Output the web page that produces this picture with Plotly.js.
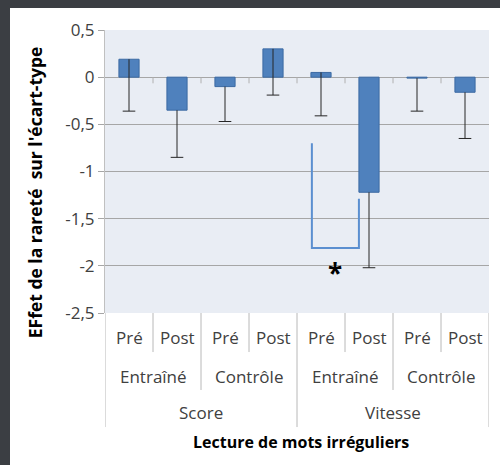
<!DOCTYPE html>
<html><head><meta charset="utf-8">
<script src="https://cdn.plot.ly/plotly-3.0.1.min.js"></script>
<style>
html,body{margin:0;padding:0;background:#3b3e43;width:500px;height:465px;overflow:hidden}
#wrap{position:absolute;left:10px;top:8px;width:490px;height:457px;background:#fff}
#chart{width:490px;height:457px}
</style></head><body>
<div id="wrap"><div id="chart"></div></div>
<script>
// Data
var phases = ['Pré','Post','Pré','Post','Pré','Post','Pré','Post'];
var groups = ['Entraîné','Contrôle','Entraîné','Contrôle'];
var measures = ['Score','Vitesse'];
var effects = [0.19, -0.35, -0.10, 0.30, 0.05, -1.22, -0.01, -0.16];
var errMinus = [0.55, 0.50, 0.37, 0.49, 0.46, 0.80, 0.35, 0.49];
var yTickVals = [0.5, 0, -0.5, -1, -1.5, -2, -2.5];
var yTickText = ['0,5', '0', '-0,5', '-1', '-1,5', '-2', '-2,5'];
// significance bracket (x in category units, y in effect units)
var bracketX = [3.81, 3.81, 4.79, 4.79];
var bracketY = [-0.70, -1.81, -1.81, -1.29];
var starPos = [4.29, -2.08];

var xs = effects.map(function(_, i){ return i; });
var lows = effects.map(function(v, i){ return v - errMinus[i]; });
var font = "'Open Sans', 'Liberation Sans', sans-serif";

var traces = [{
  type: 'bar', x: xs, y: effects, width: 0.42,
  marker: {color: '#4f81bd', line: {color: '#3c6aa3', width: 1}},
  error_y: {type: 'data', symmetric: false, array: effects.map(function(){return 0;}),
            arrayminus: errMinus, color: '#262626', thickness: 1, width: 0},
  hoverinfo: 'skip'
}, {
  type: 'scatter', mode: 'markers', x: xs, y: lows,
  marker: {symbol: 'line-ew', size: 9, line: {color: '#262626', width: 1}}, hoverinfo: 'skip'
}, {
  type: 'scatter', mode: 'lines', x: bracketX, y: bracketY,
  line: {color: '#5b8fd0', width: 2}, hoverinfo: 'skip'
}];

var shapes = [];
var annotations = [];
for (var k = 0; k <= phases.length; k++) {
  var y1 = (k % 4 === 0) ? -0.403 : (k % 2 === 0 ? -0.272 : -0.138);
  shapes.push({type: 'line', xref: 'x', yref: 'paper', x0: k - 0.5, x1: k - 0.5, y0: 0, y1: y1,
               line: {color: '#b8b8b8', width: 1}});
  if (k > 0 && k < phases.length) {
    shapes.push({type: 'line', xref: 'x', yref: 'y', x0: k - 0.5, x1: k - 0.5, y0: 0, y1: -0.065,
                 line: {color: '#b0b0b0', width: 1}});
  }
}
var lab = {family: font, size: 17, color: '#404040'};
phases.forEach(function(t, i){
  annotations.push({text: t, x: i, xref: 'x', y: -0.088, yref: 'paper', showarrow: false, font: lab, yanchor: 'middle'});
});
groups.forEach(function(t, i){
  annotations.push({text: t, x: 2 * i + 0.5, xref: 'x', y: -0.223, yref: 'paper', showarrow: false, font: lab, yanchor: 'middle'});
});
measures.forEach(function(t, i){
  annotations.push({text: t, x: 4 * i + 1.5, xref: 'x', y: -0.353, yref: 'paper', showarrow: false, font: lab, yanchor: 'middle'});
});
annotations.push({text: '<b>Lecture de mots irréguliers</b>', x: 0.51, xref: 'paper', y: -0.456, yref: 'paper',
  showarrow: false, yanchor: 'middle', font: {family: font, size: 16, color: '#000'}});
annotations.push({text: "<b>EFfet de la rareté  sur l'écart-type</b>", textangle: -90, x: -0.182, xref: 'paper',
  y: 0.427, yref: 'paper', showarrow: false, xanchor: 'center', yanchor: 'middle',
  font: {family: font, size: 17.5, color: '#000'}});
annotations.push({text: '<b>*</b>', x: starPos[0], y: starPos[1], xref: 'x', yref: 'y', showarrow: false,
  yanchor: 'middle', font: {family: font, size: 26, color: '#000'}});

var layout = {
  width: 490, height: 457,
  margin: {l: 95, r: 11, t: 22, b: 152},
  paper_bgcolor: '#ffffff', plot_bgcolor: '#e9edf4',
  showlegend: false,
  separators: ', ',
  xaxis: {range: [-0.5, 7.5], showticklabels: false, showgrid: false, zeroline: false,
          showline: false, ticks: '', fixedrange: true},
  yaxis: {range: [-2.5, 0.5], tickvals: yTickVals, ticktext: yTickText, showgrid: true,
          gridcolor: '#a6a6a6', gridwidth: 1, zeroline: true, zerolinecolor: '#a6a6a6', zerolinewidth: 1,
          showline: true, linecolor: '#c0c0c0', linewidth: 1,
          ticks: 'outside', ticklen: 6, tickcolor: '#a6a6a6',
          tickfont: {family: font, size: 17, color: '#404040'}, fixedrange: true},
  shapes: shapes,
  annotations: annotations
};
Plotly.newPlot('chart', traces, layout, {displayModeBar: false, staticPlot: true});
</script>
</body></html>
